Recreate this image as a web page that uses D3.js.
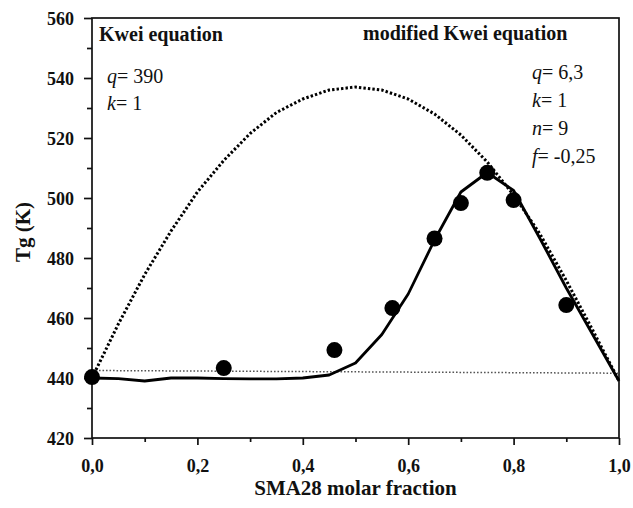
<!DOCTYPE html>
<html>
<head>
<meta charset="utf-8">
<script src="https://cdn.jsdelivr.net/npm/d3@7"></script>
<style>
  body { margin: 0; background: #fff; }
  svg { display: block; font-family: "Liberation Serif", "Times New Roman", serif; }
</style>
</head>
<body>
<div class="canvas"></div>
<script>
// measured points (SMA28 molar fraction vs Tg)
const fracs = [0, 0.25, 0.46, 0.57, 0.65, 0.70, 0.75, 0.80, 0.90]
const tgValues = [440.3, 443.3, 449.3, 463.3, 486.5, 498.3, 508.4, 499.3, 464.3]

// curves, every 0.05
const curveX = [0, 0.05, 0.1, 0.15, 0.2, 0.25, 0.3, 0.35, 0.4, 0.45, 0.5,
  0.55, 0.6, 0.65, 0.7, 0.75, 0.8, 0.85, 0.9, 0.95, 1]
const kweiTg = [440, 458, 474.5, 489, 502, 512.5, 521.5, 528.5, 533, 536, 537,
  536, 533, 528, 521, 512, 501, 488, 472.5, 456, 439]
const modKweiTg = [440, 439.8, 439, 440, 440, 439.8, 439.7, 439.7, 440, 441, 445,
  454.5, 468, 486, 502, 508.5, 502.5, 486.5, 470, 454.5, 439]
const mixX = [0, 1]
const mixTg = [442.5, 441.6]

const xTicks = [0, 0.2, 0.4, 0.6, 0.8, 1.0]
const xTickLabels = ['0,0', '0,2', '0,4', '0,6', '0,8', '1,0']
const xMinor = [0.1, 0.3, 0.5, 0.7, 0.9]
const yTicks = [420, 440, 460, 480, 500, 520, 540, 560]
const yMinor = [430, 450, 470, 490, 510, 530, 550]

const W = 633
const H = 508
const margin = { top: 18, right: 14, bottom: 70, left: 92 }
const width = W - margin.left - margin.right
const height = H - margin.top - margin.bottom
const serif = '"Liberation Serif", "Times New Roman", serif'

const svg = d3.select('.canvas')
  .append('svg')
  .attr('width', W)
  .attr('height', H)

const graph = svg.append('g')
  .attr('transform', `translate(${margin.left}, ${margin.top})`)

const x = d3.scaleLinear().domain([0, 1]).range([0, width])
const y = d3.scaleLinear().domain([420, 560]).range([height, 0])

// frame
graph.append('rect')
  .attr('width', width)
  .attr('height', height)
  .attr('fill', 'none')
  .attr('stroke', '#111')
  .attr('stroke-width', 1.7)

// axes
graph.append('g')
  .attr('transform', `translate(0, ${height})`)
  .call(d3.axisBottom(x).tickValues(xTicks)
    .tickFormat((d, i) => xTickLabels[i]).tickSize(7).tickPadding(14))
graph.append('g')
  .attr('transform', `translate(0, ${height})`)
  .call(d3.axisBottom(x).tickValues(xMinor).tickFormat('').tickSize(4))

const yAxis = graph.append('g')
  .call(d3.axisLeft(y).tickValues(yTicks).tickSize(8).tickPadding(10))
graph.append('g')
  .call(d3.axisLeft(y).tickValues(yMinor).tickFormat('').tickSize(5))

graph.selectAll('.domain').remove()
graph.selectAll('g.tick').attr('font-family', serif)
graph.selectAll('.tick line').attr('stroke', '#111').attr('stroke-width', 1.7)
graph.selectAll('.tick text')
  .attr('fill', '#111')
  .style('font-family', serif)
  .attr('font-size', 18)
  .attr('font-weight', 'bold')
yAxis.selectAll('.tick text').attr('dy', '0.34em')

// lines
const line = (xs, ys) => d3.line()
  .x((d, i) => x(xs[i]))
  .y(d => y(d))(ys)

graph.append('path')
  .attr('d', line(mixX, mixTg))
  .attr('fill', 'none')
  .attr('stroke', '#555')
  .attr('stroke-width', 1.5)
  .attr('stroke-dasharray', '1.6,1.9')

graph.append('path')
  .attr('d', line(curveX, kweiTg))
  .attr('fill', 'none')
  .attr('stroke', '#000')
  .attr('stroke-width', 3)
  .attr('stroke-dasharray', '2.4,2.1')

graph.append('path')
  .attr('d', line(curveX, modKweiTg))
  .attr('fill', 'none')
  .attr('stroke', '#000')
  .attr('stroke-width', 2.8)
  .attr('stroke-linejoin', 'round')

graph.selectAll('circle')
  .data(fracs)
  .enter()
  .append('circle')
  .attr('cx', d => x(d))
  .attr('cy', (d, i) => y(tgValues[i]))
  .attr('r', 8)
  .attr('fill', '#000')

// annotations
const addText = (g, px, py, parts, size) => {
  const t = g.append('text')
    .attr('x', px)
    .attr('y', py)
    .attr('font-size', size)
    .attr('fill', '#111')
  parts.forEach(p => {
    t.append('tspan')
      .attr('font-style', p.italic ? 'italic' : null)
      .attr('font-weight', p.bold ? 'bold' : null)
      .text(p.s)
  })
  return t
}

addText(svg, 99, 41, [{ s: 'Kwei equation', bold: true }], 20)
addText(svg, 363, 40, [{ s: 'modified Kwei equation', bold: true }], 20)

const leftParams = [['q', '= 390'], ['k', '= 1']]
leftParams.forEach((p, i) => {
  addText(svg, 107, 83 + i * 27, [{ s: p[0], italic: true }, { s: p[1] }], 20)
})
const rightParams = [['q', '= 6,3'], ['k', '= 1'], ['n', '= 9'], ['f', '= -0,25']]
rightParams.forEach((p, i) => {
  addText(svg, 532, 79 + i * 28, [{ s: p[0], italic: true }, { s: p[1] }], 20)
})

// axis titles
svg.append('text')
  .attr('x', margin.left + width / 2)
  .attr('y', 495)
  .attr('text-anchor', 'middle')
  .attr('font-size', 21)
  .attr('font-weight', 'bold')
  .attr('fill', '#111')
  .text('SMA28 molar fraction')

svg.append('text')
  .attr('transform', 'translate(30, 232) rotate(-90)')
  .attr('text-anchor', 'middle')
  .attr('font-size', 21)
  .attr('font-weight', 'bold')
  .attr('fill', '#111')
  .text('Tg (K)')
</script>
</body>
</html>
